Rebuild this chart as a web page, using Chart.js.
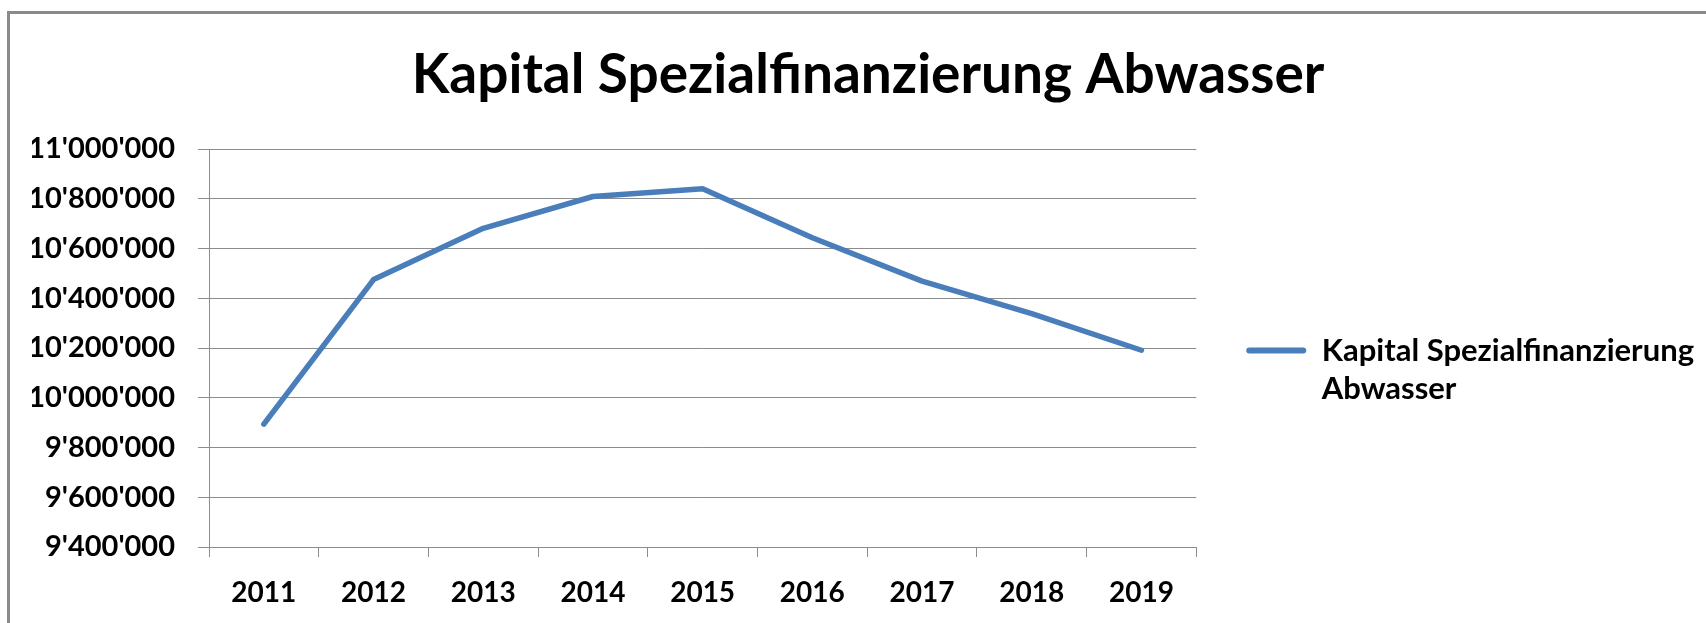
<!DOCTYPE html>
<html>
<head>
<meta charset="utf-8">
<script src="https://cdn.jsdelivr.net/npm/chart.js@4.4.1/dist/chart.umd.min.js"></script>
<style>
    html, body { margin: 0; padding: 0; background: #fff; overflow: hidden; }
    #frame { position: absolute; left: 7px; top: 11px; width: 1760px; height: 700px; border: 3px solid #8a8a8a; }
    #chartCanvas { position: absolute; left: 0; top: 0; }
</style>
</head>
<body>
<div id="frame"></div>
<canvas id="chartCanvas" width="1706" height="623"></canvas>
<script>
const chartTitle = 'Kapital Spezialfinanzierung Abwasser';
const seriesLines = ['Kapital Spezialfinanzierung', 'Abwasser'];
const years = ['2011', '2012', '2013', '2014', '2015', '2016', '2017', '2018', '2019'];
const capitalValues = [9894000, 10475000, 10681000, 10809000, 10840000, 10643000, 10469000, 10338000, 10191000];
const yMin = 9400000;
const yMax = 11000000;
const yStep = 200000;

const lineColor = '#4a7ebb';
const gridColor = '#8c8c8c';

// swiss style thousands separator: 11'000'000
function formatNumber(value) {
    return Math.round(value).toString().replace(/\B(?=(\d{3})+(?!\d))/g, "'");
}

let ctx = document.getElementById('chartCanvas').getContext('2d');
let capitalChart = new Chart(ctx, {
    type: 'line',
    data: {
        labels: years,
        datasets: [{
            label: seriesLines.join(' '),
            data: capitalValues,
            borderColor: lineColor,
            backgroundColor: lineColor,
            borderWidth: 5.5,
            borderCapStyle: 'round',
            borderJoinStyle: 'round',
            pointRadius: 0,
            tension: 0
        }]
    },
    options: {
        responsive: false,
        animation: false,
        layout: {
            padding: { left: 32, right: 2, top: 20, bottom: 0 }
        },
        plugins: {
            title: {
                display: true,
                text: chartTitle,
                color: '#000',
                font: { family: 'Lato', size: 55, weight: 'bold', lineHeight: 1.2 },
                padding: { top: 22, bottom: 41 }
            },
            legend: {
                position: 'right',
                align: 'start',
                fullSize: false,
                maxWidth: 540,
                title: {
                    display: true,
                    text: '',
                    font: { size: 10, lineHeight: 1 },
                    padding: { top: 126, bottom: 0 }
                },
                labels: {
                    color: '#000',
                    font: { family: 'Lato', size: 31, weight: 'bold', lineHeight: 1.24 },
                    boxWidth: 60,
                    boxHeight: 6,
                    padding: 50,
                    useBorderRadius: true,
                    borderRadius: 3,
                    generateLabels: function (chart) {
                        let items = Chart.defaults.plugins.legend.labels.generateLabels(chart);
                        items.forEach(function (item) {
                            item.text = seriesLines;
                            item.lineWidth = 0;
                            item.fillStyle = lineColor;
                        });
                        return items;
                    }
                }
            },
            tooltip: { enabled: false }
        },
        scales: {
            x: {
                offset: true,
                afterFit: function (scale) { scale.height = 76; },
                grid: {
                    offset: true,
                    drawOnChartArea: false,
                    tickLength: 10,
                    color: gridColor
                },
                border: { color: gridColor },
                ticks: {
                    color: '#000',
                    padding: 19,
                    font: { family: 'Lato', size: 28, weight: 'bold' }
                }
            },
            y: {
                min: yMin,
                max: yMax,
                afterFit: function (scale) { scale.width = 177; },
                grid: {
                    color: gridColor,
                    tickLength: 11
                },
                border: { color: gridColor },
                ticks: {
                    stepSize: yStep,
                    color: '#000',
                    padding: 23,
                    font: { family: 'Lato', size: 29, weight: 'bold' },
                    callback: function (value) { return formatNumber(value); }
                }
            }
        }
    }
});
</script>
</body>
</html>
